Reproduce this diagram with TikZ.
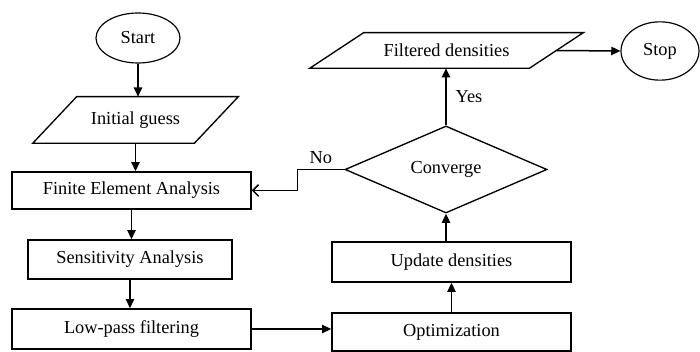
\documentclass[tikz,border=0pt]{standalone}
\usepackage{fontspec}
\setmainfont{Liberation Serif}
\usetikzlibrary{arrows.meta, shapes.geometric, positioning, calc}
% parallelogram round a plain node, #2 = half of the slant
\newcommand{\slantbox}[2]{%
  \draw[line width=0.8pt] ($(#1.north west)+(#2,0)$) -- ($(#1.north east)+(#2,0)$)
    -- ($(#1.south east)+(-#2,0)$) -- ($(#1.south west)+(-#2,0)$) -- cycle;}

\begin{document}
\begin{tikzpicture}[x=0.6pt, y=-0.6pt,
  every node/.style={font=\fontsize{11}{13}\selectfont},
  box/.style={draw, line width=0.9pt, rectangle, inner sep=0pt},
  io/.style={rectangle, inner sep=0pt},
  term/.style={draw, line width=0.7pt, ellipse, inner sep=0pt},
  test/.style={draw, line width=0.8pt, diamond, inner sep=0pt},
  flow/.style={line width=0.9pt, -{Triangle[length=5.5pt,width=5pt]}},
  back/.style={line width=0.9pt, -{Straight Barb[length=3.5pt,width=7pt]}}]
  \useasboundingbox (0,0) rectangle (700,352);
  % left column
  \node[term, minimum width=50.4pt, minimum height=30pt] (start) at (138,38) {Start};
  \node[io, minimum width=96.6pt, minimum height=27.6pt] (guess) at (135.5,120) {Initial guess};
  \slantbox{guess}{22}
  \node[box, minimum width=143.4pt, minimum height=22.2pt] (fea) at (131.5,190.5) {Finite Element Analysis};
  \node[box, minimum width=122.4pt, minimum height=23.4pt] (sens) at (130,259.5) {Sensitivity Analysis};
  \node[box, minimum width=143.4pt, minimum height=24pt] (lpf) at (131.5,329) {Low-pass filtering};
  % right column
  \node[box, minimum width=143.4pt, minimum height=22.8pt] (opt) at (451.5,332) {Optimization};
  \node[box, minimum width=143.4pt, minimum height=24pt] (upd) at (451.5,262) {Update densities};
  \node[test, minimum width=121.2pt, minimum height=49.8pt] (conv) at (446,169.5) {Converge};
  \node[io, minimum width=131.4pt, minimum height=21pt] (filt) at (446.5,50.5) {Filtered densities};
  \slantbox{filt}{27}
  \node[term, minimum width=46.8pt, minimum height=35pt] (stop) at (660,51) {Stop};
  % connectors
  \draw[flow] (start) -- (start |- guess.north);
  \draw[flow] (guess.south) -- (guess.south |- fea.north);
  \draw[flow] (fea.south) -- (fea.south |- sens.north);
  \draw[flow] (sens.south) -- (sens.south |- lpf.north);
  \draw[flow] (lpf.east) -- (lpf.east -| opt.west);
  \draw[flow] (opt.north) -- (upd.south);
  \draw[flow] (conv.south |- upd.north) -- (conv.south);
  \draw[flow] (conv.north) -- node[right=2pt] {Yes} (conv.north |- filt.south);
  \draw[flow] (filt.east) -- (stop.west);
  \draw[back] (conv.west) -- node[above, pos=0.5] {No} ++(-47,0) |- (fea.east);
\end{tikzpicture}
\end{document}
